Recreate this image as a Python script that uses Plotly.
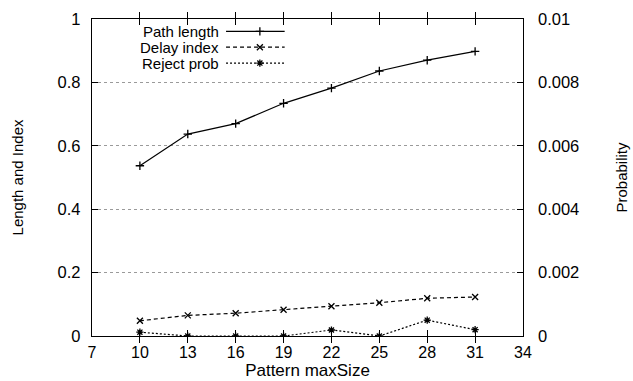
import plotly.graph_objects as go

# Data series
max_size = [10, 13, 16, 19, 22, 25, 28, 31]
path_length = [0.537, 0.637, 0.670, 0.734, 0.782, 0.836, 0.870, 0.898]
delay_index = [0.048, 0.065, 0.072, 0.083, 0.094, 0.105, 0.119, 0.123]
reject_prob = [0.00012, 0.0, 0.0, 0.0, 0.00019, 0.0, 0.0005, 0.0002]

series_names = ["Path length", "Delay index", "Reject prob"]
x_ticks = [7, 10, 13, 16, 19, 22, 25, 28, 31, 34]
y_ticks = [0, 0.2, 0.4, 0.6, 0.8, 1]
y_labels = ["0", "0.2", "0.4", "0.6", "0.8", "1"]
y2_ticks = [0, 0.002, 0.004, 0.006, 0.008, 0.01]
y2_labels = ["0", "0.002", "0.004", "0.006", "0.008", "0.01"]

FONT = "Liberation Sans, Arial, Helvetica, sans-serif"
symbols = ["cross-thin-open", "x-thin-open", "asterisk-open"]
dashes = ["solid", "4px,3px", "2px,2px"]

fig = go.Figure()

def marker_style(idx):
    return dict(symbol=symbols[idx], size=6, color="black",
                line=dict(color="black", width=1.3))

def add_series(y, idx, yaxis):
    fig.add_trace(go.Scatter(
        x=max_size, y=y, yaxis=yaxis, mode="lines+markers",
        name=series_names[idx], showlegend=False,
        line=dict(color="black", width=1.2, dash=dashes[idx]),
        marker=marker_style(idx),
    ))

add_series(path_length, 0, "y")
add_series(delay_index, 1, "y")
add_series(reject_prob, 2, "y2")

# Key: right-aligned labels with line samples to their right
key_y = [0.961, 0.911, 0.861]
for i, name in enumerate(series_names):
    fig.add_annotation(x=0.298, y=key_y[i], xref="paper", yref="paper",
                       text=name, showarrow=False, xanchor="right",
                       yanchor="middle", borderpad=0,
                       font=dict(family=FONT, size=15, color="black"))
    fig.add_shape(type="line", xref="paper", yref="paper",
                  x0=0.311, x1=0.447, y0=key_y[i], y1=key_y[i],
                  line=dict(color="black", width=1.2, dash=dashes[i]))
    fig.add_trace(go.Scatter(
        x=[0.3895], y=[key_y[i]], xaxis="x3", yaxis="y3", mode="markers",
        showlegend=False, hoverinfo="skip", marker=marker_style(i),
    ))

fig.update_layout(
    width=633, height=381,
    margin=dict(l=92, r=110, t=19, b=45),
    paper_bgcolor="white", plot_bgcolor="white",
    font=dict(family=FONT, size=16, color="black"),
    showlegend=False,
    xaxis=dict(
        range=[7, 34], tickvals=x_ticks, ticks="inside", ticklen=6,
        tickcolor="black", showline=True, linecolor="black", linewidth=1.3,
        mirror="allticks", showgrid=False, zeroline=False,
        ticklabelstandoff=2, automargin=False,
        title=dict(text="Pattern maxSize", standoff=3,
                   font=dict(size=17)),
        tickfont=dict(size=16),
    ),
    yaxis=dict(
        range=[0, 1], tickvals=y_ticks, ticktext=y_labels,
        ticks="inside", ticklen=6, tickcolor="black", showline=True,
        linecolor="black", linewidth=1.3, mirror=True,
        showgrid=True, gridcolor="#9a9a9a", griddash="dot", gridwidth=1,
        zeroline=False, ticklabelstandoff=7, automargin=False,
        title=dict(text="Length and Index", standoff=30,
                   font=dict(size=15)),
        tickfont=dict(size=16.5),
    ),
    yaxis2=dict(
        range=[0, 0.01], tickvals=y2_ticks, ticktext=y2_labels,
        overlaying="y", side="right", ticks="inside", ticklen=6,
        tickcolor="black", showgrid=False, zeroline=False,
        ticklabelstandoff=14, automargin=False,
        title=dict(text="Probability", standoff=38, font=dict(size=15)),
        tickfont=dict(size=16.5),
    ),
    xaxis3=dict(range=[0, 1], overlaying="x", visible=False),
    yaxis3=dict(range=[0, 1], overlaying="y", visible=False),
)

fig.write_html("out.html")
